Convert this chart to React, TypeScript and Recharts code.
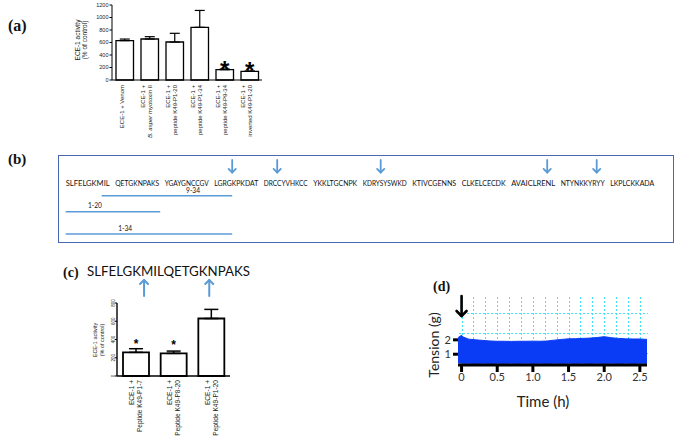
import React from "react";
import {
  BarChart,
  Bar,
  XAxis,
  YAxis,
  ErrorBar,
  LabelList,
  ComposedChart,
  Scatter,
  ReferenceLine,
  ReferenceDot,
  AreaChart,
  Area,
  CartesianGrid,
} from "recharts";

// (a) ECE-1 activity with venom, myotoxin and peptides
const A_LABELS: string[][] = [
  ["ECE-1 + Venom"],
  ["ECE-1 +", "B. asper myotoxin II"],
  ["ECE-1 +", "peptide K49-P1-20"],
  ["ECE-1 +", "peptide K49-P1-34"],
  ["ECE-1 +", "peptide K49-P9-34"],
  ["ECE-1 +", "inverted K49-P1-20"],
];
const A_MEAN = [630, 656, 608, 843, 165, 139];
const A_SEM = [25, 37, 139, 270, 11, 5];
const A_SIG = ["", "", "", "", "*", "*"];
const A_TICKS = [0, 200, 400, 600, 800, 1000, 1200];

// (b) myotoxin II sequence, cleavage sites and peptide fragments
const SEQ_GROUPS = [
  "SLFELGKMIL", "QETGKNPAKS", "YGAYGNCCGV", "LGRGKPKDAT",
  "DRCCYVHKCC", "YKKLTGCNPK", "KDRYSYSWKD", "KTIVCGENNS",
  "CLKELCECDK", "AVAICLRENL", "NTYNKKYRYY", "LKPLCKKADA",
];
const CLEAVAGE_AFTER = [34, 43, 64, 98, 108];
const FRAGMENTS = ["9-34", "1-20", "1-34"];
const FRAG_START = [9, 1, 1];
const FRAG_END = [34, 20, 34];

// (c) N-terminal peptides
const C_PEPTIDE = "SLFELGKMILQETGKNPAKS";
const C_CLEAVAGE_AFTER = [7, 15];
const C_LABELS: string[][] = [
  ["ECE-1 +", "Peptide K49-P1-7"],
  ["ECE-1 +", "Peptide K49-P8-20"],
  ["ECE-1 +", "Peptide K49-P1-20"],
];
const C_MEAN = [259, 248, 630];
const C_SEM = [40, 25, 100];
const C_SIG = ["*", "*", ""];
const C_TICKS = [0, 200, 400, 600, 800];

// (d) tension trace
const D_TIME = [-0.05, 0, 0.02, 0.1, 0.2, 0.3, 0.4, 0.5, 0.6, 0.7, 0.8, 0.9, 1.0, 1.1, 1.2, 1.3, 1.4, 1.5, 1.6, 1.7, 1.8, 1.9, 2.0, 2.1, 2.2, 2.3, 2.4, 2.5, 2.6];
const D_HIGH = [2.15, 2.32, 2.2, 2.05, 2.0, 1.96, 1.92, 1.9, 1.9, 1.89, 1.9, 1.9, 1.91, 1.9, 1.92, 1.98, 2.03, 2.07, 2.08, 2.1, 2.12, 2.16, 2.22, 2.15, 2.1, 2.07, 2.06, 2.06, 2.03];
const D_LOW = [0.4, 0.38, 0.37, 0.37, 0.36, 0.37, 0.36, 0.37, 0.36, 0.37, 0.36, 0.37, 0.36, 0.37, 0.36, 0.37, 0.36, 0.37, 0.36, 0.37, 0.36, 0.37, 0.36, 0.37, 0.36, 0.37, 0.36, 0.37, 0.37];
const D_XTICKS = [0, 0.5, 1, 1.5, 2, 2.5];
const D_YTICKS = [1, 2];
const D_GRID_T = [0, 0.167, 0.333, 0.5, 0.667, 0.833, 1, 1.167, 1.333, 1.5, 1.667, 1.833, 2, 2.167, 2.333, 2.5];
const D_GRID_G = [1.07, 2.47, 3.87];

const SERIF = "'Times New Roman', 'Liberation Serif', serif";
const ARIAL = "Arial, 'Liberation Sans', sans-serif";
const SANS = "Lato, 'Open Sans', sans-serif";
const BLUE = "#5b9bd5";
const CYAN = "#3ee6f7";

function rotatedTick(labels: string[][], fontSize: number, lineH: number, shiftX: number, gap: number) {
  return function Tick(props: any) {
    const { x, y, index } = props;
    const lines = labels[index] ?? [];
    const mid = (lines.length - 1) / 2;
    return (
      <g transform={`translate(${x + shiftX},${y + gap}) rotate(-90)`}>
        {lines.map((t, i) => (
          <text
            key={i}
            x={0}
            y={(i - mid) * lineH}
            dominantBaseline="central"
            textAnchor="end"
            fontSize={fontSize}
            fontFamily={ARIAL}
            fill="#222"
          >
            {t.startsWith("B. asper") ? (
              <>
                <tspan fontStyle="italic">B. asper</tspan>
                {t.slice(8)}
              </>
            ) : (
              t
            )}
          </text>
        ))}
      </g>
    );
  };
}

function starLabel(fontSize: number, dy: number) {
  return function Star(props: any) {
    const { x, y, width, value } = props;
    if (!value) return null;
    return (
      <text x={x + width / 2} y={y + dy} textAnchor="middle" fontSize={fontSize} fontWeight="bold" fontFamily={ARIAL} fill="#000">
        {value}
      </text>
    );
  };
}

function rotatedYTick(fontSize: number) {
  return function Tick(props: any) {
    const { x, y, payload } = props;
    return (
      <text transform={`rotate(-90 ${x} ${y})`} x={x} y={y} textAnchor="middle" fontSize={fontSize} fontFamily={ARIAL} fill="#222">
        {payload.value}
      </text>
    );
  };
}

function PanelA() {
  const data = A_MEAN.map((m, i) => ({ name: A_LABELS[i].join(" "), mean: m, err: [0, A_SEM[i]], sig: A_SIG[i] }));
  return (
    <BarChart width={210} height={141} data={data} margin={{ top: 5, right: 8, left: 0, bottom: 0 }} barSize={17.5}>
      <XAxis
        dataKey="name"
        interval={0}
        height={61}
        tickLine={false}
        tickSize={0}
        tickMargin={0}
        axisLine={{ stroke: "#000", strokeWidth: 1 }}
        tick={rotatedTick(A_LABELS, 6, 6.6, -3, 5)}
      />
      <YAxis
        type="number"
        domain={[0, 1200]}
        ticks={A_TICKS}
        interval={0}
        width={52}
        tickSize={2.5}
        tickMargin={1}
        tickLine={{ stroke: "#000" }}
        axisLine={{ stroke: "#000" }}
        tick={{ fontSize: 5.5, fill: "#222", fontFamily: ARIAL }}
      />
      <Bar dataKey="mean" fill="#fff" stroke="#000" strokeWidth={1.3} isAnimationActive={false}>
        <ErrorBar dataKey="err" direction="y" width={5} stroke="#000" strokeWidth={1.2} />
        <LabelList dataKey="sig" content={starLabel(24, 8)} />
      </Bar>
    </BarChart>
  );
}

const B_W = 616;
const B_H = 88;
const B_LEFT = 7.7;
const B_RIGHT = 18.8;
const SLOT_COUNT = SEQ_GROUPS.length * 11 - 1;
const SLOT_PX = (B_W - B_LEFT - B_RIGHT) / SLOT_COUNT;
const slotOf = (r: number) => r - 1 + Math.floor((r - 1) / 10);

function downArrow(color: string, len: number, head: number, sw: number) {
  return function Arrow(p: any) {
    const { cx, cy } = p;
    return (
      <g stroke={color} strokeWidth={sw} fill="none" strokeLinecap="round" strokeLinejoin="round">
        <line x1={cx} y1={cy} x2={cx} y2={cy + len} />
        <polyline points={`${cx - head},${cy + len - head} ${cx},${cy + len} ${cx + head},${cy + len - head}`} />
      </g>
    );
  };
}

function upArrow(color: string, len: number, head: number, sw: number) {
  return function Arrow(p: any) {
    const { cx, cy } = p;
    return (
      <g stroke={color} strokeWidth={sw} fill="none" strokeLinecap="round" strokeLinejoin="round">
        <line x1={cx} y1={cy} x2={cx} y2={cy + len} />
        <polyline points={`${cx - head},${cy + head} ${cx},${cy} ${cx + head},${cy + head}`} />
      </g>
    );
  };
}

function PanelB() {
  const seqRow = 30.5;
  const arrowRow = 5;
  const fragRows = [40.7, 56.7, 79];
  const fragLabelRows = [38, 53.3, 75.7];
  const fragLabelAt = [27.3, 7.5, 13.2];
  const seqPts = SEQ_GROUPS.map((g, i) => ({ x: slotOf(i * 10 + 1), y: seqRow, text: g }));
  const arrowPts = CLEAVAGE_AFTER.map((n) => ({ x: slotOf(n) + 1, y: arrowRow }));
  const labelPts = FRAGMENTS.map((f, i) => ({ x: slotOf(fragLabelAt[i]), y: fragLabelRows[i], text: f }));
  return (
    <ComposedChart width={B_W} height={B_H} margin={{ top: 0, right: B_RIGHT, bottom: 0, left: B_LEFT }}>
      <XAxis type="number" dataKey="x" domain={[0, SLOT_COUNT]} allowDataOverflow hide />
      <YAxis type="number" dataKey="y" domain={[0, B_H]} allowDataOverflow reversed hide />
      {FRAGMENTS.map((f, i) => (
        <ReferenceLine
          key={f}
          segment={[
            { x: slotOf(FRAG_START[i]), y: fragRows[i] },
            { x: slotOf(FRAG_END[i]) + 1, y: fragRows[i] },
          ]}
          stroke={BLUE}
          strokeWidth={1.5}
        />
      ))}
      <Scatter
        data={seqPts}
        isAnimationActive={false}
        shape={(p: any) => (
          <text x={p.cx} y={p.cy} textLength={SLOT_PX * 10 - 1} lengthAdjust="spacingAndGlyphs" fontSize={6.6} fontFamily={SANS} fill="#111">
            {p.payload.text}
          </text>
        )}
      />
      <Scatter data={arrowPts} isAnimationActive={false} shape={downArrow(BLUE, 12.5, 3.6, 1.8)} />
      <Scatter
        data={labelPts}
        isAnimationActive={false}
        shape={(p: any) => (
          <text x={p.cx} y={p.cy} textAnchor="middle" fontSize={6.6} fontFamily={SANS} fill="#111">
            {p.payload.text}
          </text>
        )}
      />
    </ComposedChart>
  );
}

const CH_W = 180;
const CH_H = 45;
const CH_L = 7;
const CH_R = 10;

function PanelCHeader() {
  const plotW = CH_W - CH_L - CH_R;
  const arrowPts = C_CLEAVAGE_AFTER.map((n) => ({ x: n, y: 25 }));
  return (
    <ComposedChart width={CH_W} height={CH_H} margin={{ top: 0, right: CH_R, bottom: 0, left: CH_L }}>
      <XAxis type="number" dataKey="x" domain={[0, C_PEPTIDE.length]} allowDataOverflow hide />
      <YAxis type="number" dataKey="y" domain={[0, CH_H]} allowDataOverflow reversed hide />
      <Scatter
        data={[{ x: 0, y: 21, text: C_PEPTIDE }]}
        isAnimationActive={false}
        shape={(p: any) => (
          <text x={p.cx} y={p.cy} textLength={plotW} lengthAdjust="spacingAndGlyphs" fontSize={14} fontFamily={SANS} fill="#111">
            {p.payload.text}
          </text>
        )}
      />
      <Scatter data={arrowPts} isAnimationActive={false} shape={upArrow(BLUE, 16, 4, 2)} />
    </ComposedChart>
  );
}

function PanelC() {
  const data = C_MEAN.map((m, i) => ({ name: C_LABELS[i].join(" "), mean: m, err: [0, C_SEM[i]], sig: C_SIG[i] }));
  return (
    <BarChart width={180} height={150} data={data} margin={{ top: 8, right: 10, left: 0, bottom: 0 }} barSize={26}>
      <XAxis
        dataKey="name"
        interval={0}
        height={69}
        tickLine={false}
        tickSize={0}
        tickMargin={0}
        axisLine={{ stroke: "#000", strokeWidth: 1.4 }}
        tick={rotatedTick(C_LABELS, 6.6, 8.3, 0, 4)}
      />
      <YAxis
        type="number"
        domain={[0, 800]}
        ticks={C_TICKS}
        interval={0}
        width={57}
        tickSize={2}
        tickMargin={0}
        tickLine={{ stroke: "#000" }}
        axisLine={{ stroke: "#000", strokeWidth: 1.4 }}
        tick={rotatedYTick(4.5)}
      />
      <Bar dataKey="mean" fill="#fff" stroke="#000" strokeWidth={1.8} isAnimationActive={false}>
        <ErrorBar dataKey="err" direction="y" width={7} stroke="#000" strokeWidth={1.5} />
        <LabelList dataKey="sig" content={starLabel(12, -4.5)} />
      </Bar>
    </BarChart>
  );
}

const gridLine = (p: any) => (
  <line
    key={p.key}
    x1={Math.round(p.x1) + 0.5}
    y1={Math.round(p.y1) + 0.5}
    x2={Math.round(p.x2) + 0.5}
    y2={Math.round(p.y2) + 0.5}
    stroke={CYAN}
    strokeWidth={1}
    strokeDasharray="2 2"
    shapeRendering="crispEdges"
    fill="none"
  />
);

function PanelD() {
  const data = D_TIME.map((t, i) => ({ t, band: [D_LOW[i], D_HIGH[i]] }));
  return (
    <AreaChart width={270} height={130} data={data} margin={{ top: 11, right: 23, left: 0, bottom: 0 }}>
      <CartesianGrid
        horizontalValues={D_GRID_G}
        verticalValues={D_GRID_T}
        horizontal={gridLine}
        vertical={gridLine}
        stroke={CYAN}
        strokeDasharray="2 2"
      />
      <XAxis
        type="number"
        dataKey="t"
        domain={[-0.05, 2.6]}
        allowDataOverflow
        ticks={D_XTICKS}
        interval={0}
        height={50}
        tickSize={7}
        tickMargin={1}
        axisLine={{ stroke: "#000", strokeWidth: 3 }}
        tickLine={{ stroke: "#000", strokeWidth: 3 }}
        tick={{ fontSize: 11, fill: "#333", fontFamily: SANS }}
        tickFormatter={(v: number) => (v === 0 ? "0" : v.toFixed(1))}
      />
      <YAxis
        type="number"
        domain={[0.25, 5.05]}
        allowDataOverflow
        ticks={D_YTICKS}
        interval={0}
        width={58}
        tickSize={5}
        tickMargin={2}
        axisLine={false}
        tickLine={{ stroke: "#000", strokeWidth: 3 }}
        tick={{ fontSize: 11, fill: "#333", fontFamily: SANS }}
      />
      <Area
        type="linear"
        dataKey="band"
        stroke="#0a3cf5"
        fill="#0a3cf5"
        fillOpacity={1}
        strokeWidth={1}
        dot={false}
        activeDot={false}
        isAnimationActive={false}
      />
      <ReferenceDot x={0} y={5.05} r={0} shape={downArrow("#000", 20, 5, 2.6)} />
    </AreaChart>
  );
}

const abs = (left: number, top: number): React.CSSProperties => ({ position: "absolute", left, top });

export default function App() {
  return (
    <div style={{ position: "absolute", left: 0, top: 0, width: 685, height: 445, background: "#fff", overflow: "hidden" }}>
      <div style={abs(60, 0)}>
        <PanelA />
      </div>
      <div
        style={{
          ...abs(58, 155),
          width: 616,
          height: 88,
          border: "1.5px solid #4a68b0",
          boxSizing: "border-box",
        }}
      />
      <div style={abs(58, 155)}>
        <PanelB />
      </div>
      <div style={abs(80, 255)}>
        <PanelCHeader />
      </div>
      <div style={abs(60, 295)}>
        <PanelC />
      </div>
      <div style={abs(400, 285)}>
        <PanelD />
      </div>
      <svg width={685} height={445} style={{ position: "absolute", left: 0, top: 0, pointerEvents: "none" }}>
        <g fontFamily={SERIF} fontWeight="bold" fill="#111">
          <text x={8} y={31} fontSize={16}>(a)</text>
          <text x={8} y={164} fontSize={15}>(b)</text>
          <text x={63} y={277} fontSize={14}>(c)</text>
          <text x={433} y={291} fontSize={14}>(d)</text>
        </g>
        <g transform="translate(81,40) rotate(-90)" fontFamily={ARIAL} fontSize={6.5} fill="#222" textAnchor="middle">
          <text x={0} y={-3.5} dominantBaseline="central">ECE-1 activity</text>
          <text x={0} y={3.5} dominantBaseline="central">(% of control)</text>
        </g>
        <g transform="translate(98.3,340) rotate(-90)" fontFamily={ARIAL} fontSize={5.5} fill="#222" textAnchor="middle">
          <text x={0} y={-3.3} dominantBaseline="central">ECE-1 activity</text>
          <text x={0} y={3.3} dominantBaseline="central">(% of control)</text>
        </g>
        <text transform="translate(433,345) rotate(-90)" textAnchor="middle" dominantBaseline="central" fontFamily={SANS} fontSize={14} fill="#222">
          Tension (g)
        </text>
        <text x={543} y={407} textAnchor="middle" fontFamily={SANS} fontSize={15} fill="#222">
          Time (h)
        </text>
      </svg>
    </div>
  );
}
